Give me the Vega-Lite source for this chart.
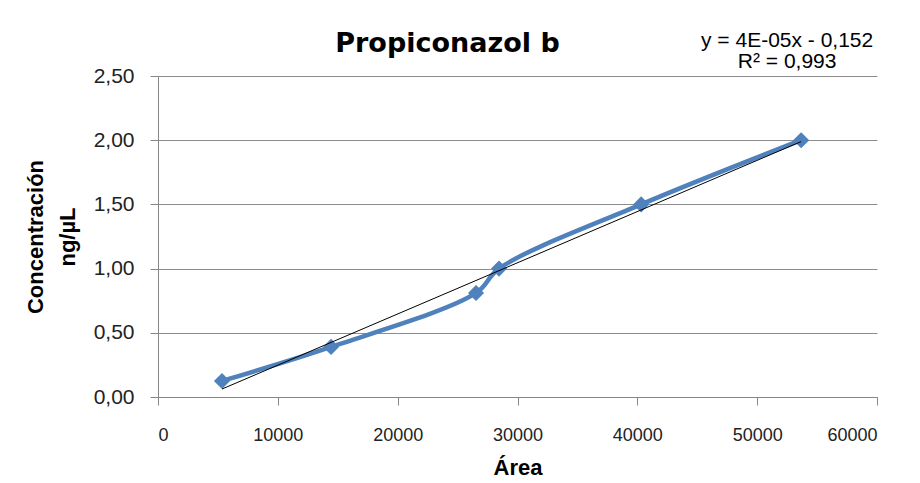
{
  "$schema": "https://vega.github.io/schema/vega-lite/v6.json",
  "width": 719,
  "height": 321,
  "autosize": "none",
  "padding": {"left": 158, "top": 76, "right": 43, "bottom": 86},
  "background": "white",
  "config": {
    "locale": {"number": {"decimal": ",", "thousands": ".", "grouping": [3], "currency": ["", ""]}},
    "view": {"stroke": null},
    "font": "Liberation Sans"
  },
  "title": {
    "text": "Propiconazol b",
    "font": "DejaVu Sans",
    "fontSize": 27,
    "fontWeight": "bold",
    "color": "#000000",
    "anchor": "middle",
    "offset": -28,
    "dx": -70
  },
  "datasets": {
    "pts": [
      {"area": 5340, "conc": 0.125},
      {"area": 14440, "conc": 0.39},
      {"area": 26540, "conc": 0.81},
      {"area": 28460, "conc": 1.0},
      {"area": 40320, "conc": 1.5},
      {"area": 53670, "conc": 2.0}
    ],
    "eq": [
      {"area": 52500, "conc": 2.726, "label": "y = 4E-05x - 0,152"},
      {"area": 52500, "conc": 2.565, "label": "R² = 0,993"}
    ]
  },
  "encoding": {
    "x": {
      "field": "area", "type": "quantitative",
      "scale": {"domain": [0, 60000], "nice": false, "zero": false},
      "axis": {
        "title": "Área",
        "titleFont": "Liberation Sans", "titleFontSize": 22, "titleFontWeight": "bold", "titleColor": "#000000",
        "titlePadding": 13,
        "values": [0, 10000, 20000, 30000, 40000, 50000, 60000],
        "format": "d",
        "grid": false,
        "domainColor": "#868686", "domainWidth": 1,
        "tickColor": "#868686", "tickSize": 8,
        "labelFontSize": 18, "labelColor": "#222222", "labelPadding": 21
      }
    },
    "y": {
      "field": "conc", "type": "quantitative",
      "scale": {"domain": [0, 2.5], "nice": false, "zero": false},
      "axis": {
        "title": ["Concentración", "ng/µL"],
        "titleFont": "Liberation Sans", "titleFontSize": 22, "titleFontWeight": "bold", "titleColor": "#000000",
        "titleLineHeight": 32,
        "titlePadding": 14,
        "values": [0, 0.5, 1, 1.5, 2, 2.5],
        "format": ".2f",
        "grid": true, "gridColor": "#8c8c8c", "gridWidth": 1,
        "domainColor": "#868686", "domainWidth": 1,
        "tickColor": "#868686", "tickSize": 8,
        "labelFontSize": 21, "labelColor": "#222222", "labelPadding": 16
      }
    }
  },
  "layer": [
    {
      "data": {"name": "pts"},
      "mark": {"type": "line", "color": "#4F81BD", "strokeWidth": 4.5, "interpolate": "catmull-rom"}
    },
    {
      "data": {"name": "pts"},
      "mark": {"type": "point", "shape": "diamond", "filled": true, "color": "#4F81BD", "size": 260, "opacity": 1}
    },
    {
      "data": {"name": "pts"},
      "transform": [{"regression": "conc", "on": "area"}],
      "mark": {"type": "line", "color": "#000000", "strokeWidth": 1}
    },
    {
      "data": {"name": "eq"},
      "mark": {"type": "text", "align": "center", "baseline": "alphabetic", "fontSize": 21, "color": "#000000", "clip": false},
      "encoding": {"text": {"field": "label"}}
    }
  ]
}
